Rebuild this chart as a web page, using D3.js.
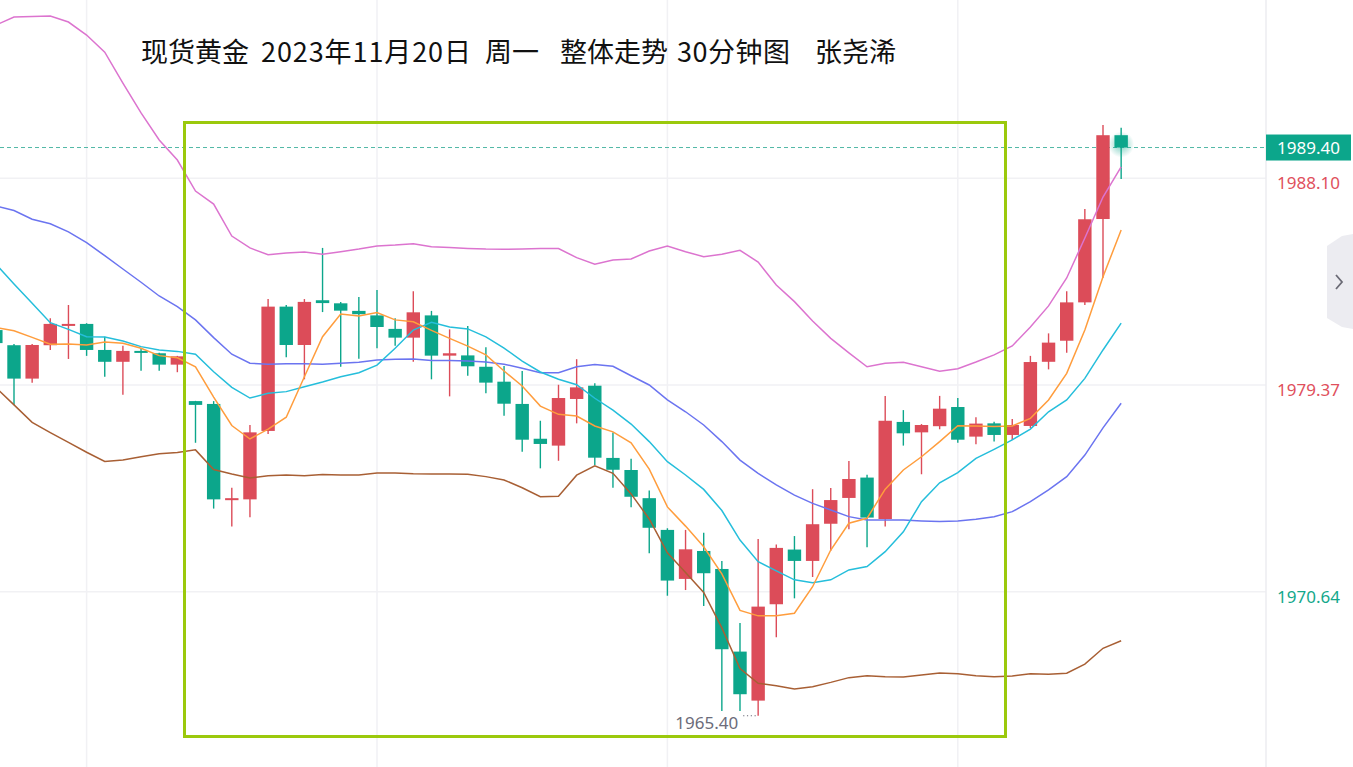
<!DOCTYPE html>
<html>
<head>
<meta charset="utf-8">
<script src="https://cdn.jsdelivr.net/npm/d3@7"></script>
<style>
  body { margin: 0; background: #fff; }
  svg { display: block; }
</style>
</head>
<body>
<script>
// 30 min candles, first one is cut by the left edge
var opens  = [1981.69,1981.05,1979.64,1981.05,1981.90,1981.95,1980.85,1980.35,1980.81,1980.71,1980.23,
  1978.69,1978.57,1974.54,1974.54,1977.43,1982.68,1981.06,1982.95,1982.82,1982.50,1982.31,1981.74,1981.37,
  1982.31,1980.61,1980.62,1980.14,1979.51,1978.57,1977.10,1976.81,1978.78,1979.34,1976.29,1975.78,1974.59,
  1973.25,1971.18,1972.36,1971.60,1968.11,1966.04,1970.11,1972.42,1971.94,1973.51,1974.60,1975.46,1973.71,
  1977.81,1977.37,1977.63,1978.44,1977.19,1977.75,1977.26,1977.64,1980.35,1981.24,1982.86,1986.38,1989.92];
var highs  = [1981.80,1981.10,1981.10,1982.19,1982.75,1981.98,1981.41,1981.03,1980.93,1980.73,1980.60,
  1978.70,1978.69,1975.03,1977.68,1983.00,1982.75,1983.00,1985.16,1982.88,1983.09,1983.38,1982.19,1983.33,
  1982.50,1981.72,1981.86,1980.96,1980.17,1979.96,1977.86,1979.38,1980.46,1979.44,1977.36,1976.25,1974.91,
  1973.32,1973.25,1973.13,1971.94,1969.32,1972.87,1972.63,1972.99,1974.97,1975.02,1976.16,1975.58,1978.91,
  1978.31,1977.72,1978.91,1978.82,1978.01,1977.82,1977.93,1980.60,1981.55,1983.33,1986.80,1990.35,1990.24];
var lows   = [1980.90,1978.53,1979.47,1980.85,1980.47,1980.60,1979.72,1978.96,1979.97,1979.97,1979.91,
  1976.93,1974.15,1973.39,1973.78,1977.30,1980.54,1979.61,1982.45,1980.14,1980.48,1980.92,1981.03,1980.35,
  1979.61,1978.89,1979.76,1979.02,1978.07,1976.55,1975.85,1976.17,1977.75,1975.99,1975.03,1974.21,1972.26,
  1970.47,1970.71,1970.04,1965.60,1965.60,1965.40,1968.72,1970.36,1971.26,1972.37,1973.28,1972.52,1973.39,
  1976.81,1975.60,1977.50,1976.93,1976.87,1976.98,1977.05,1977.55,1980.03,1980.73,1982.75,1983.90,1988.07];
var closes = [1981.14,1979.64,1981.06,1981.95,1981.95,1980.85,1980.35,1980.81,1980.73,1980.23,1980.58,
  1978.53,1974.54,1974.59,1977.37,1982.68,1981.06,1982.88,1982.83,1982.51,1982.36,1981.82,1981.37,1982.44,
  1980.61,1980.71,1980.16,1979.47,1978.58,1977.06,1976.88,1978.82,1979.27,1976.30,1975.79,1974.65,1973.34,
  1971.11,1972.43,1971.42,1968.21,1966.31,1970.01,1972.49,1971.94,1973.49,1974.51,1975.40,1973.77,1977.86,
  1977.33,1977.68,1978.37,1977.06,1977.74,1977.26,1977.68,1980.34,1981.16,1982.86,1986.37,1989.92,1989.40];

// indicator lines
var ma5 = [1981.80,1981.66,1981.38,1981.09,1981.10,1981.06,1981.19,1981.13,1980.92,1980.61,1980.52,
  1980.14,1978.86,1977.66,1977.09,1977.51,1978.01,1979.72,1981.41,1982.37,1982.28,1982.43,1982.12,1982.04,
  1981.68,1981.34,1981.01,1980.64,1979.96,1979.33,1978.48,1978.13,1978.06,1977.64,1977.39,1976.93,1975.82,
  1974.22,1973.41,1972.54,1971.39,1969.85,1969.62,1969.62,1969.73,1970.85,1972.40,1973.53,1973.74,1974.97,
  1975.78,1976.34,1976.98,1977.65,1977.64,1977.62,1977.64,1977.96,1978.74,1979.86,1981.69,1983.94,1985.92];
var ma10 = [1984.48,1983.64,1982.82,1982.00,1981.72,1981.41,1981.40,1981.23,1980.99,1980.85,1980.79,
  1980.67,1979.93,1979.27,1978.82,1979.02,1979.09,1979.30,1979.50,1979.72,1979.89,1980.21,1980.92,1981.69,
  1982.02,1981.82,1981.74,1981.40,1980.93,1980.38,1979.92,1979.61,1979.38,1978.81,1978.31,1977.72,1976.98,
  1976.13,1975.57,1974.96,1974.07,1972.82,1971.91,1971.52,1971.14,1971.02,1971.14,1971.56,1971.70,1972.33,
  1973.17,1974.44,1975.24,1975.67,1976.27,1976.65,1977.05,1977.51,1978.24,1978.74,1979.65,1980.85,1981.98];
var bollUp = [1994.57,1994.91,1994.93,1994.95,1994.70,1994.15,1993.43,1992.12,1990.86,1989.72,1988.87,
  1987.56,1987.01,1985.66,1985.16,1984.87,1984.94,1984.99,1984.89,1985.00,1985.11,1985.24,1985.28,1985.34,
  1985.21,1985.18,1985.14,1985.11,1985.10,1985.11,1985.13,1985.13,1984.75,1984.47,1984.65,1984.69,1985.03,
  1985.24,1985.00,1984.79,1984.89,1985.06,1984.56,1983.59,1982.89,1982.07,1981.34,1980.73,1980.14,1980.29,
  1980.33,1980.14,1979.95,1980.06,1980.34,1980.64,1981.02,1981.82,1982.71,1983.89,1985.58,1987.31,1988.58];
var bollMid = [1986.93,1986.74,1986.37,1986.18,1985.84,1985.38,1984.83,1984.27,1983.71,1983.13,1982.68,
  1982.12,1981.37,1980.67,1980.29,1980.25,1980.27,1980.27,1980.25,1980.29,1980.33,1980.43,1980.46,1980.47,
  1980.41,1980.41,1980.38,1980.34,1980.25,1980.08,1979.89,1979.89,1980.14,1980.24,1980.16,1979.76,1979.37,
  1978.74,1978.24,1977.68,1976.98,1976.20,1975.64,1975.15,1974.72,1974.37,1974.09,1973.81,1973.67,1973.67,
  1973.67,1973.63,1973.60,1973.63,1973.70,1973.81,1974.02,1974.44,1974.94,1975.50,1976.41,1977.56,1978.60];
var bollLow = [1979.26,1978.53,1977.79,1977.36,1976.95,1976.53,1976.14,1976.20,1976.34,1976.47,1976.52,
  1976.63,1975.80,1975.61,1975.44,1975.54,1975.57,1975.54,1975.59,1975.57,1975.57,1975.65,1975.65,1975.62,
  1975.61,1975.61,1975.60,1975.50,1975.36,1975.03,1974.65,1974.67,1975.56,1975.96,1975.64,1974.77,1973.71,
  1972.28,1971.45,1970.61,1969.11,1967.39,1966.77,1966.67,1966.53,1966.63,1966.81,1967.01,1967.09,1967.05,
  1967.04,1967.12,1967.21,1967.17,1967.09,1967.05,1967.08,1967.17,1967.15,1967.20,1967.58,1968.25,1968.57];

var axisTicks = [1988.10, 1979.37, 1970.64];
var axisTickColors = ["#e0505c", "#e0505c", "#14a88b"];
var lastPrice = 1989.40;
var lowLabel = "1965.40";
var lowIndex = 42;
var gridCandles = [5, 21, 37, 53];
var titleParts = ["现货黄金", "2023年11月20日", "周一", "整体走势", "30分钟图", "张尧浠"];
var titleX = [141, 261, 485, 560, 677, 815];
var titleLen = [null, 210, null, null, 113, null];

var w = 1353, h = 767;
var plotRight = 1266;
var upColor = "#dc4c59", downColor = "#0ca68b";

var svg = d3.select("body").append("svg")
  .attr("width", w)
  .attr("height", h);

var x = d3.scaleLinear().domain([0, opens.length - 1]).range([-4.15, 1121.15]);
var y = d3.scaleLinear().domain([1970.64, 1988.10]).range([591.7, 178.3]);

// grid
svg.append("g").selectAll("line")
  .data(axisTicks)
  .enter().append("line")
  .attr("x1", 0).attr("x2", plotRight)
  .attr("y1", function(d) { return y(d); })
  .attr("y2", function(d) { return y(d); })
  .attr("stroke", "#f1f1f4").attr("stroke-width", 1.5);

svg.append("g").selectAll("line")
  .data(gridCandles)
  .enter().append("line")
  .attr("x1", function(d) { return x(d); })
  .attr("x2", function(d) { return x(d); })
  .attr("y1", 0).attr("y2", h)
  .attr("stroke", "#f1f1f4").attr("stroke-width", 1.5);

svg.append("line")
  .attr("x1", plotRight).attr("x2", plotRight)
  .attr("y1", 0).attr("y2", h)
  .attr("stroke", "#ececf0").attr("stroke-width", 1.5);

// last price dashed line
svg.append("line")
  .attr("x1", 0).attr("x2", plotRight)
  .attr("y1", y(lastPrice)).attr("y2", y(lastPrice))
  .attr("stroke", "#52b8a6").attr("stroke-width", 1)
  .attr("stroke-dasharray", "4,3");

// candles
var idx = d3.range(opens.length);
var candles = svg.append("g").selectAll("g")
  .data(idx)
  .enter().append("g");

candles.append("line")
  .attr("x1", function(i) { return x(i); })
  .attr("x2", function(i) { return x(i); })
  .attr("y1", function(i) { return y(highs[i]); })
  .attr("y2", function(i) { return y(lows[i]); })
  .attr("stroke", function(i) { return closes[i] >= opens[i] ? upColor : downColor; })
  .attr("stroke-width", 1.4);

candles.append("rect")
  .attr("x", function(i) { return x(i) - 6.7; })
  .attr("width", 13.4)
  .attr("y", function(i) { return y(Math.max(opens[i], closes[i])); })
  .attr("height", function(i) {
    return Math.max(2, Math.abs(y(opens[i]) - y(closes[i])));
  })
  .attr("fill", function(i) { return closes[i] >= opens[i] ? upColor : downColor; });

// glow on the live candle
var defs = svg.append("defs");
var glow = defs.append("radialGradient").attr("id", "glow");
glow.append("stop").attr("offset", "0%").attr("stop-color", "#0ca68b").attr("stop-opacity", 0.55);
glow.append("stop").attr("offset", "100%").attr("stop-color", "#0ca68b").attr("stop-opacity", 0);
var last = opens.length - 1;
svg.append("circle")
  .attr("cx", x(last)).attr("cy", y(lastPrice) - 3)
  .attr("r", 13)
  .attr("fill", "url(#glow)");

// indicator lines, drawn over the candles
var lineGen = d3.line()
  .x(function(d, i) { return x(i); })
  .y(function(d) { return y(d); });

var series = [
  { values: bollLow, color: "#a85f34" },
  { values: bollMid, color: "#6b74f0" },
  { values: bollUp,  color: "#dc74cf" },
  { values: ma10,    color: "#25bedb" },
  { values: ma5,     color: "#ff9d3d" }
];

svg.append("g").selectAll("path")
  .data(series)
  .enter().append("path")
  .attr("d", function(d) { return lineGen(d.values); })
  .attr("fill", "none")
  .attr("stroke", function(d) { return d.color; })
  .attr("stroke-width", 1.5);

// low marker
svg.append("text")
  .attr("x", x(lowIndex) - 20).attr("y", y(1965.40) + 13)
  .attr("text-anchor", "end")
  .attr("font-family", "Noto Sans, sans-serif")
  .attr("font-size", 17)
  .attr("fill", "#6c6c7a")
  .text(lowLabel);
svg.append("line")
  .attr("x1", x(lowIndex) - 15).attr("x2", x(lowIndex) - 1)
  .attr("y1", y(1965.40)).attr("y2", y(1965.40))
  .attr("stroke", "#6c6c7a").attr("stroke-width", 1.2)
  .attr("stroke-dasharray", "1.2,2.6");

// highlight box
svg.append("rect")
  .attr("x", 184.5).attr("y", 122.5)
  .attr("width", 821).attr("height", 614)
  .attr("fill", "none")
  .attr("stroke", "#9bc90c")
  .attr("stroke-width", 3);

// right axis labels
svg.append("g").selectAll("text")
  .data(axisTicks)
  .enter().append("text")
  .attr("x", 1277)
  .attr("y", function(d) { return y(d) + 11; })
  .attr("font-family", "Noto Sans, sans-serif")
  .attr("font-size", 17)
  .attr("fill", function(d, i) { return axisTickColors[i]; })
  .text(function(d) { return d.toFixed(2); });

svg.append("rect")
  .attr("x", plotRight).attr("y", y(lastPrice) - 13)
  .attr("width", 85).attr("height", 26)
  .attr("fill", "#0ca68b");
svg.append("text")
  .attr("x", plotRight + 42.5).attr("y", y(lastPrice) + 6)
  .attr("text-anchor", "middle")
  .attr("font-family", "Noto Sans, sans-serif")
  .attr("font-size", 17)
  .attr("fill", "#fff")
  .text(lastPrice.toFixed(2));

// collapse tab on the right
svg.append("path")
  .attr("d", "M1353,234 L1342,236 L1327,246 L1327,318 L1342,327 L1353,329 Z")
  .attr("fill", "#ececf1");
svg.append("path")
  .attr("d", "M1336,275 L1342,282 L1336,289")
  .attr("fill", "none")
  .attr("stroke", "#6a6a75")
  .attr("stroke-width", 1.8);

// title, placed word group by word group
var title = svg.append("g")
  .attr("font-family", "Noto Sans CJK SC, sans-serif")
  .attr("font-size", 27)
  .attr("fill", "#111");
title.selectAll("text")
  .data(titleParts)
  .enter().append("text")
  .attr("x", function(d, i) { return titleX[i]; })
  .attr("y", 62)
  .each(function(d, i) {
    if (titleLen[i]) {
      d3.select(this).attr("textLength", titleLen[i]).attr("lengthAdjust", "spacing");
    }
  })
  .text(function(d) { return d; });
</script>
</body>
</html>
